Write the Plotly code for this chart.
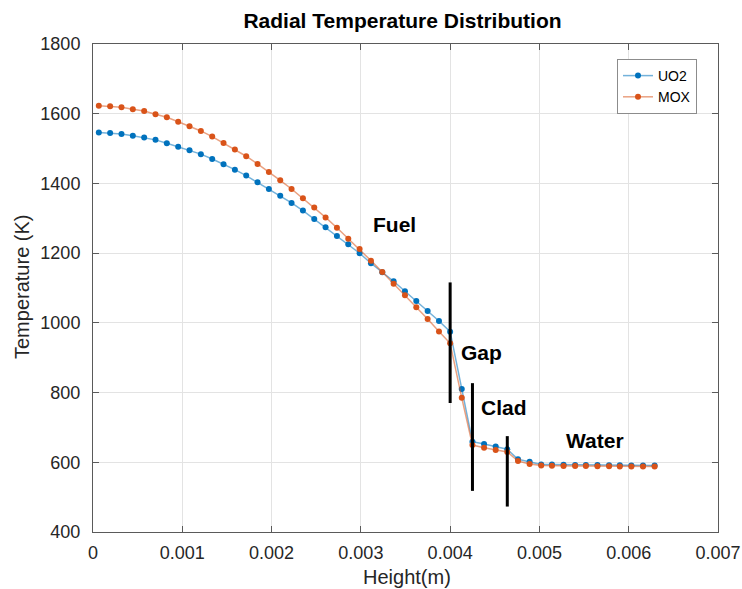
import plotly.graph_objects as go

# ---- data ----
height_m = [
    0.000065, 0.000192, 0.000319, 0.000446, 0.000573, 0.000700, 0.000827, 0.000954,
    0.001081, 0.001208, 0.001335, 0.001462, 0.001589, 0.001716, 0.001843, 0.001970,
    0.002097, 0.002224, 0.002351, 0.002478, 0.002605, 0.002732, 0.002859, 0.002986,
    0.003113, 0.003240, 0.003367, 0.003494, 0.003621, 0.003748, 0.003875, 0.004000,
    0.00413,
    0.00425, 0.00438, 0.00451, 0.00464,
    0.00476, 0.00489, 0.00502, 0.00514, 0.00527, 0.00540, 0.00552, 0.00565,
    0.00578, 0.00590, 0.00603, 0.00616, 0.00629,
]

temp_uo2 = [
    1546, 1545, 1542, 1536.5, 1531.5, 1525, 1515.5, 1505.5,
    1495, 1484, 1470, 1455, 1439.6, 1422.4, 1403.4, 1384.2,
    1365, 1344, 1322, 1298, 1274.3, 1249.3, 1225.5, 1199.7,
    1171, 1145.2, 1119.4, 1090.7, 1062.8, 1034, 1005.4, 974.7,
    810,
    659, 652.5, 645, 637.3,
    608.6, 601.7, 594, 593.5, 593, 592.5, 592, 592,
    591.5, 591.5, 591, 591, 591,
]

temp_mox = [
    1623, 1621.5, 1618.6, 1613, 1608, 1598.5, 1590, 1577,
    1564, 1550.6, 1534.3, 1516, 1497, 1478, 1456, 1433,
    1409, 1384, 1357.5, 1330.6, 1302.5, 1273, 1241.6, 1212,
    1178.5, 1146, 1112.5, 1079, 1045, 1011, 975, 941.5,
    785,
    649.6, 642, 635, 629.5,
    603.7, 595, 591, 590, 589.5, 589, 589, 588.5,
    588.5, 588, 588, 588, 588,
]

series_names = ["UO2", "MOX"]

# region boundary markers: x position, lower and upper temperature
boundary_x = [0.004, 0.00425, 0.00464]
boundary_lo = [770, 518, 473]
boundary_hi = [1116, 827, 675]

# region labels
region_labels = ["Fuel", "Gap", "Clad", "Water"]
region_label_x = [0.00338, 0.004354, 0.004598, 0.005622]
region_label_y = [1281, 914, 757, 663]

x_ticks = [0, 0.001, 0.002, 0.003, 0.004, 0.005, 0.006, 0.007]
x_tick_text = ["0", "0.001", "0.002", "0.003", "0.004", "0.005", "0.006", "0.007"]
y_ticks = [400, 600, 800, 1000, 1200, 1400, 1600, 1800]

FONT = "Liberation Sans, Arial, Helvetica, sans-serif"
AX = "#262626"

fig = go.Figure()
fig.add_trace(go.Scatter(
    x=height_m, y=temp_uo2, name=series_names[0], mode="lines+markers",
    line=dict(color="rgba(0,114,189,0.55)", width=1.5),
    marker=dict(color="#0072BD", size=6),
))
fig.add_trace(go.Scatter(
    x=height_m, y=temp_mox, name=series_names[1], mode="lines+markers",
    line=dict(color="rgba(217,83,25,0.55)", width=1.5),
    marker=dict(color="#D95319", size=6),
))
for bx, lo, hi in zip(boundary_x, boundary_lo, boundary_hi):
    fig.add_trace(go.Scatter(
        x=[bx, bx], y=[lo, hi], mode="lines", showlegend=False,
        line=dict(color="black", width=3), hoverinfo="skip",
    ))

for t, lx, ly in zip(region_labels, region_label_x, region_label_y):
    fig.add_annotation(x=lx, y=ly, xref="x", yref="y", text="<b>%s</b>" % t,
                       showarrow=False, font=dict(family=FONT, size=21, color="black"),
                       xanchor="center", yanchor="middle")

fig.add_annotation(x=(22 - 93) / 625, y=(532 - 287) / 488, xref="paper", yref="paper",
                   text="Temperature (K)", textangle=-90, showarrow=False,
                   font=dict(family=FONT, size=20, color=AX),
                   xanchor="center", yanchor="middle")
fig.add_annotation(x=(407 - 93) / 625, y=(532 - 577) / 488, xref="paper", yref="paper",
                   text="Height(m)", showarrow=False,
                   font=dict(family=FONT, size=20, color=AX),
                   xanchor="center", yanchor="middle")

axis_common = dict(
    showline=True, linecolor="#5a5a5a", linewidth=1, mirror="ticks",
    ticks="inside", ticklen=6, tickcolor="#5a5a5a", tickwidth=1,
    showgrid=True, gridcolor="#e3e3e3", gridwidth=1, zeroline=False,
    tickfont=dict(family=FONT, size=18, color=AX), automargin=False,
)

fig.update_layout(
    width=742, height=589,
    margin=dict(l=93, r=24, t=44, b=57),
    paper_bgcolor="white", plot_bgcolor="white",
    title=dict(text="<b>Radial Temperature Distribution</b>", x=402.5 / 742, y=1 - 21 / 589,
               xref="container", yref="container", xanchor="center", yanchor="middle",
               font=dict(family=FONT, size=21, color="black")),
    xaxis=dict(range=[0, 0.007], tickvals=x_ticks, ticktext=x_tick_text,
               ticklabelstandoff=4, **axis_common),
    yaxis=dict(range=[400, 1800], tickvals=y_ticks, ticklabelstandoff=8, **axis_common),
    legend=dict(x=(617 - 93) / 625, y=(532 - 59) / 488, xanchor="left", yanchor="top",
                bordercolor="#8c8c8c", borderwidth=1, bgcolor="white",
                font=dict(family=FONT, size=14, color="black"),
                itemwidth=30, tracegroupgap=0),
    showlegend=True,
)

fig.write_html("out.html", config={"displayModeBar": False},
               post_script="document.body.style.margin='0';document.body.style.overflow='hidden';")
